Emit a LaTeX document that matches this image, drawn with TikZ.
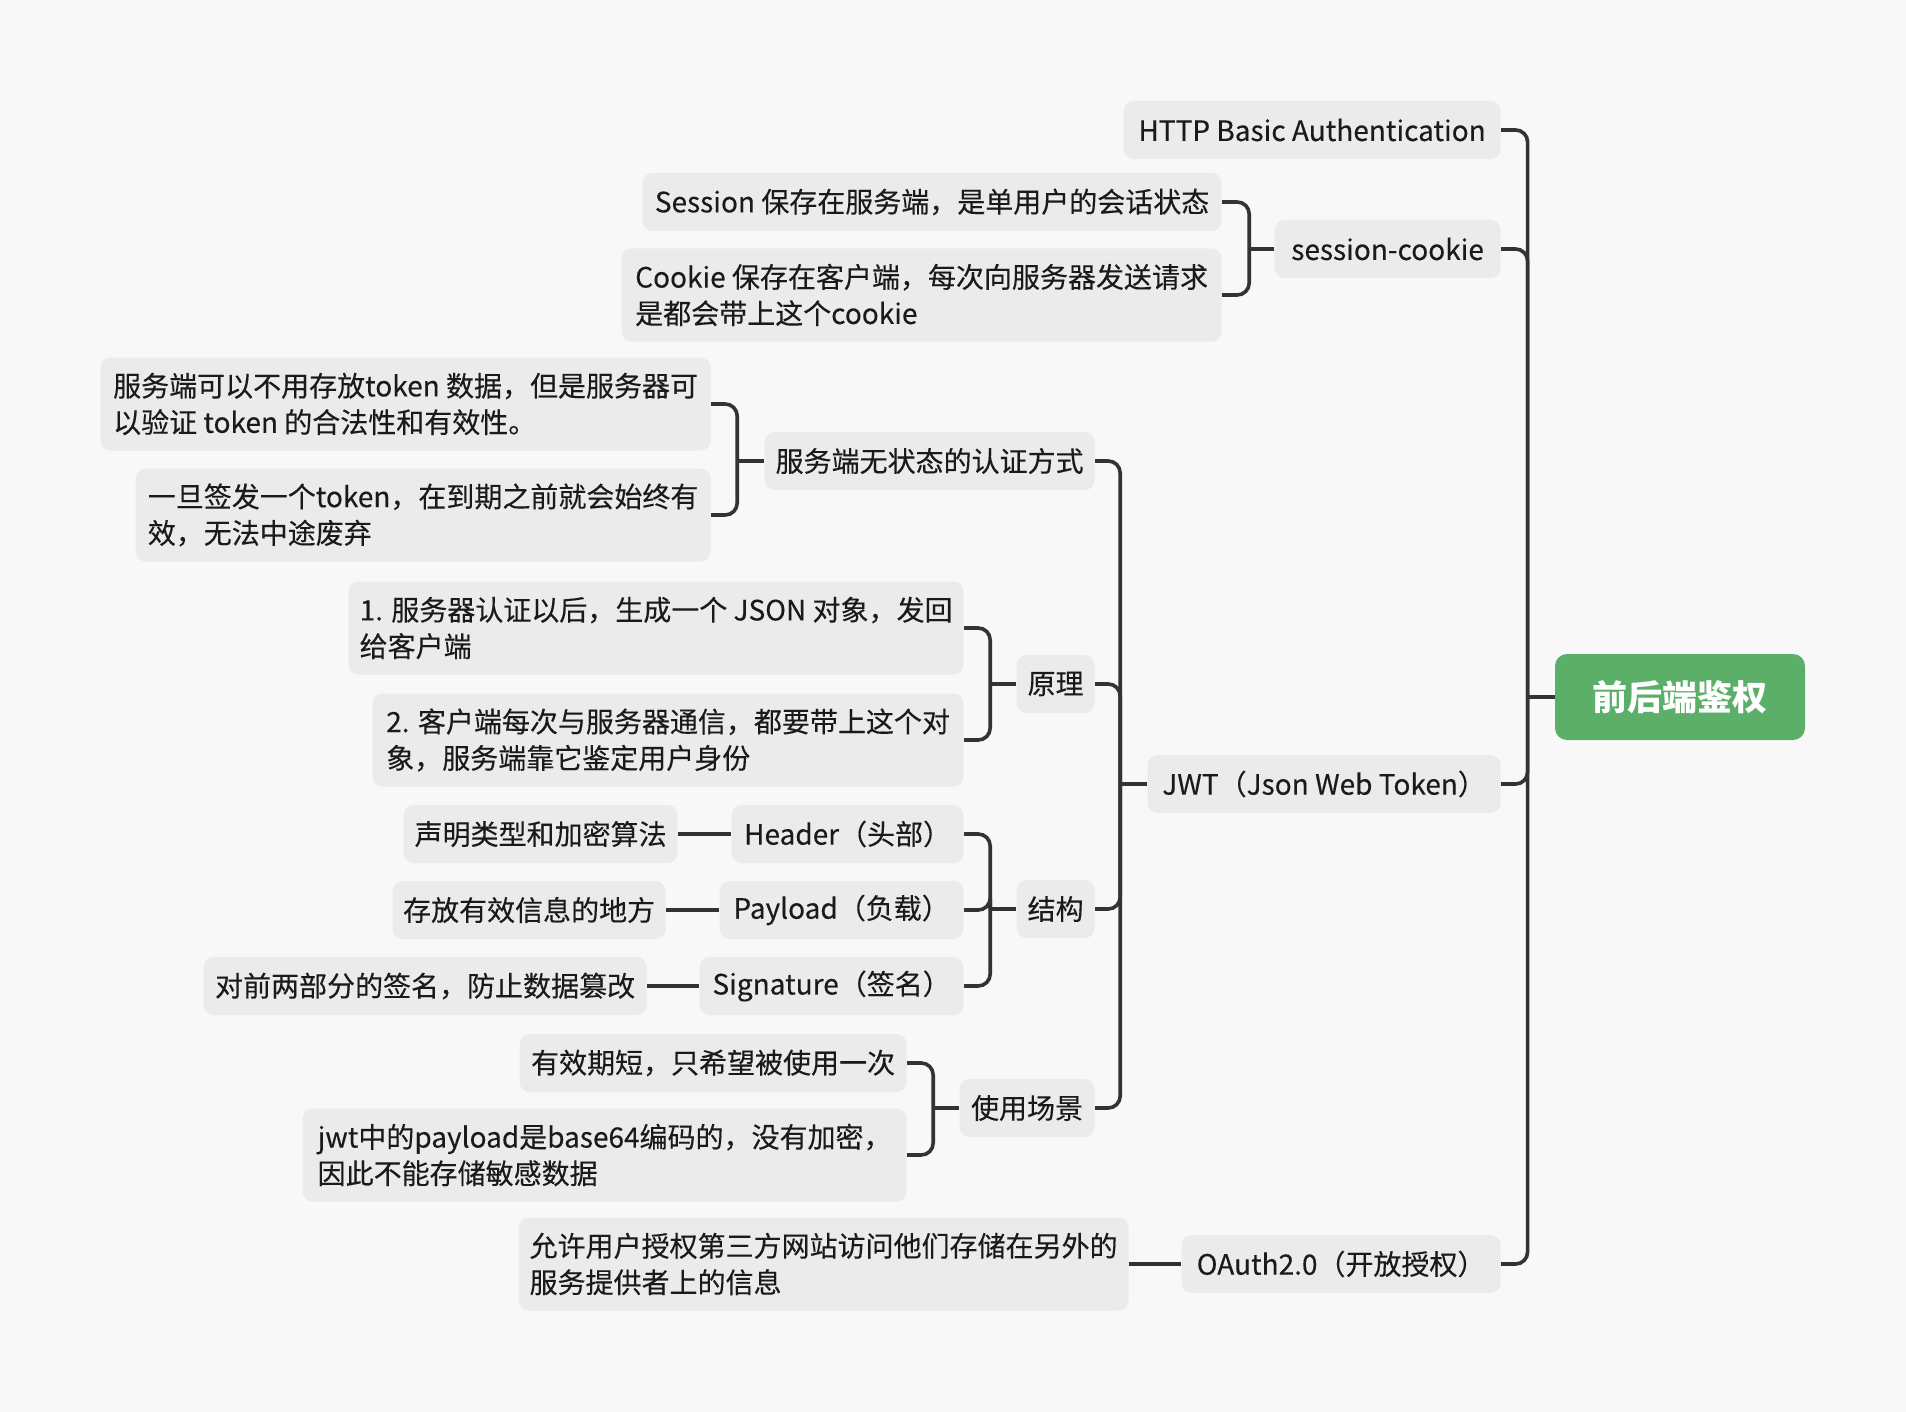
\documentclass[tikz,border=0pt]{standalone}
\usepackage{fontspec}
\setmainfont{Noto Sans CJK SC}[FakeBold=0.25]
\newfontfamily\rootfont{Noto Sans CJK SC}
\usetikzlibrary{calc}
\definecolor{bgc}{HTML}{F8F8F8}
\definecolor{boxc}{HTML}{EBEBEB}
\definecolor{linec}{HTML}{333333}
\definecolor{rootc}{HTML}{5CAF69}
\definecolor{txtc}{HTML}{1A1A1A}
\tikzset{
  box/.style={fill=boxc, rounded corners=5pt, anchor=east, inner sep=0pt,
    font=\fontsize{14}{18.2}\selectfont, text=txtc, minimum height=29pt},
  tall/.style={minimum height=46.5pt, align=left},
  conn/.style={draw=linec, line width=1.8pt, rounded corners=6pt},
  stub/.style={draw=linec, line width=1.8pt},
}
\begin{document}
\begin{tikzpicture}[x=0.5pt, y=-0.5pt]
\fill[bgc] (0,0) rectangle (1906,1412);
\useasboundingbox (0,0) rectangle (1906,1412);

% root
\node[fill=rootc, rounded corners=6pt, minimum width=125pt, minimum height=43pt, inner sep=0pt,
  text=white, font=\rootfont\fontsize{17.5}{22}\selectfont\bfseries] (root) at (1680,697) {前后端鉴权};

% level 1
\node[box, minimum width=188.5pt] (http) at (1501,130) {HTTP Basic Authentication};
\node[box, minimum width=113pt] (sess) at (1501,249) {session-cookie};
\node[box, minimum width=176.5pt] (jwt) at (1501,784) {JWT（Json Web Token）};
\node[box, minimum width=159.5pt] (oauth) at (1501,1264) {OAuth2.0（开放授权）};

% session-cookie children
\node[box, minimum width=289.5pt] (s1) at (1222,202) {Session 保存在服务端，是单用户的会话状态};
\node[box, tall, minimum width=300pt] (s2) at (1222,295) {Cookie 保存在客户端，每次向服务器发送请求\\是都会带上这个cookie};

% JWT children
\node[box, minimum width=165pt] (st) at (1095,461) {服务端无状态的认证方式};
\node[box, minimum width=39pt] (yl) at (1095,684) {原理};
\node[box, minimum width=39pt] (jg) at (1095,909) {结构};
\node[box, minimum width=67.5pt] (cj) at (1095,1108) {使用场景};

% stateless children
\node[box, tall, minimum width=305pt] (st1) at (711,404) {服务端可以不用存放token 数据，但是服务器可\\以验证 token 的合法性和有效性。};
\node[box, tall, minimum width=287.5pt] (st2) at (711,515) {一旦签发一个token，在到期之前就会始终有\\效，无法中途废弃};

% principle children
\node[box, tall, minimum width=307.5pt] (yl1) at (964,628) {1. 服务器认证以后，生成一个 JSON 对象，发回\\给客户端};
\node[box, tall, minimum width=295.5pt] (yl2) at (964,740) {2. 客户端每次与服务器通信，都要带上这个对\\象，服务端靠它鉴定用户身份};

% structure children
\node[box, minimum width=116pt] (hd) at (964,834) {Header（头部）};
\node[box, minimum width=122pt] (pl) at (964,910) {Payload（负载）};
\node[box, minimum width=132pt] (sg) at (964,986) {Signature（签名）};
\node[box, minimum width=137pt] (hd1) at (678,834) {声明类型和加密算法};
\node[box, minimum width=136.5pt] (pl1) at (666,910) {存放有效信息的地方};
\node[box, minimum width=221.5pt] (sg1) at (647,986) {对前两部分的签名，防止数据篡改};

% scenario children
\node[box, minimum width=193.5pt] (cj1) at (907,1063) {有效期短，只希望被使用一次};
\node[box, tall, minimum width=302pt] (cj2) at (907,1155) {jwt中的payload是base64编码的，没有加密，\\因此不能存储敏感数据};

% oauth child
\node[box, tall, minimum width=305pt] (oa1) at (1129,1264) {允许用户授权第三方网站访问他们存储在另外的\\服务提供者上的信息};

% connectors: root
\draw[stub] (root.west) -- ++(-27,0);
\foreach \c in {http,sess,jwt,oauth}
  \draw[conn] (\c.east) -| ($(root.west)+(-27,0)$);
% session-cookie
\draw[stub] (sess.west) -- ++(-25,0);
\foreach \c in {s1,s2}
  \draw[conn] (\c.east) -| ($(sess.west)+(-25,0)$);
% jwt
\draw[stub] (jwt.west) -- ++(-27,0);
\foreach \c in {st,yl,jg,cj}
  \draw[conn] (\c.east) -| ($(jwt.west)+(-27,0)$);
% stateless
\draw[stub] (st.west) -- ++(-27,0);
\foreach \c in {st1,st2}
  \draw[conn] (\c.east) -| ($(st.west)+(-27,0)$);
% principle
\draw[stub] (yl.west) -- ++(-26,0);
\foreach \c in {yl1,yl2}
  \draw[conn] (\c.east) -| ($(yl.west)+(-26,0)$);
% structure
\draw[stub] (jg.west) -- ++(-26,0);
\foreach \c in {hd,pl,sg}
  \draw[conn] (\c.east) -| ($(jg.west)+(-26,0)$);
\draw[stub] (hd.west) -- (hd1.east);
\draw[stub] (pl.west) -- (pl1.east);
\draw[stub] (sg.west) -- (sg1.east);
% scenario
\draw[stub] (cj.west) -- ++(-26,0);
\foreach \c in {cj1,cj2}
  \draw[conn] (\c.east) -| ($(cj.west)+(-26,0)$);
% oauth
\draw[stub] (oauth.west) -- (oa1.east);
\end{tikzpicture}
\end{document}
